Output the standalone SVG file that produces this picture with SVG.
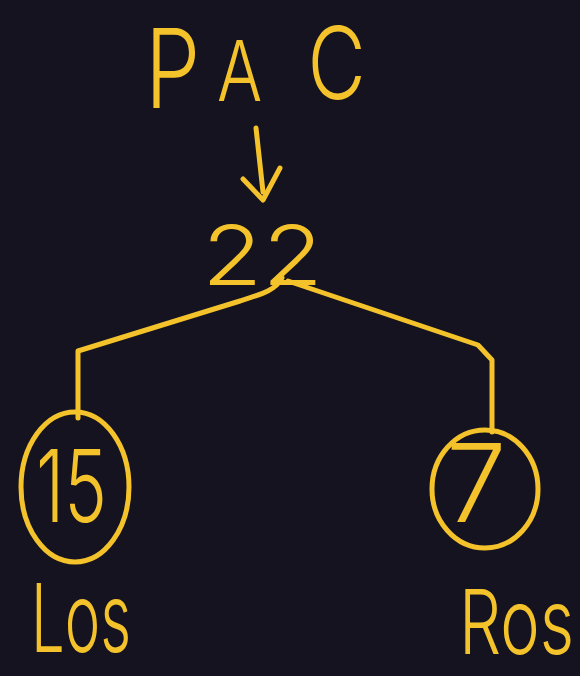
<svg xmlns="http://www.w3.org/2000/svg" width="580" height="676" viewBox="0 0 580 676">
<style>
.ink{fill:none;stroke:#f4c22b;stroke-width:5;stroke-linecap:round;stroke-linejoin:round}
.t{fill:#f4c22b;font-family:Inter,"DejaVu Sans","Liberation Sans",sans-serif;font-weight:300}
</style>
<rect width="580" height="676" fill="#15131f"/>
<g id="pac">
<text class="t" transform="translate(145,108) scale(0.8,1)"><tspan x="0" font-size="110">P</tspan><tspan x="90" y="-7" font-size="84">A</tspan><tspan x="203" y="-9" font-size="100">C</tspan></text>
</g>
<g id="n22">
<text class="t" transform="translate(202,285) scale(1.2,1)" font-size="82">22</text>
</g>
<g id="n15">
<ellipse class="ink" cx="75" cy="487" rx="54" ry="75"/>
<text class="t" transform="translate(36,522) scale(0.72,1)" font-size="100">15</text>
</g>
<g id="n7">
<ellipse class="ink" cx="485" cy="489" rx="53" ry="59"/>
<text class="t" x="446" y="522" font-size="108">7</text>
</g>
<g id="los">
<text class="t" transform="translate(31,652) scale(0.63,1)" font-size="95">Los</text>
</g>
<g id="ros">
<text class="t" transform="translate(459,654) scale(0.74,1)" font-size="90">Ros</text>
</g>
<g id="connectors">
<path class="ink" d="M256 128 L263 192"/>
<path class="ink" d="M243 179 L263 200 L280 168"/>
<path class="ink" d="M282 278 C276 290 262 294 240 301 L78 351 L78 418"/>
<path class="ink" d="M288 281 L478 345 L492 360 L492 432"/>
</g>
</svg>
